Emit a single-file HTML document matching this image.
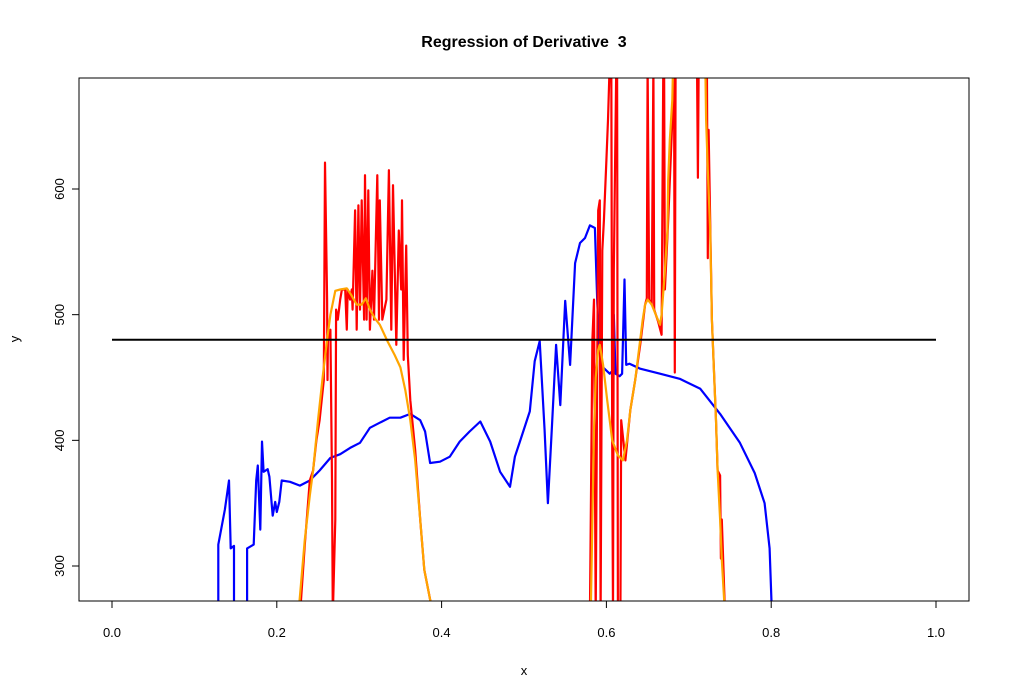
<!DOCTYPE html>
<html><head><meta charset="utf-8"><style>
html,body{margin:0;padding:0;background:#fff;}
svg{display:block;font-family:"Liberation Sans",Arial,sans-serif;}
</style></head><body>
<svg id="chart" width="1010" height="699" xmlns="http://www.w3.org/2000/svg">
<defs><clipPath id="clip"><rect x="79" y="78" width="890" height="523"/></clipPath></defs>
<text x="524" y="47" text-anchor="middle" font-size="16" font-weight="bold">Regression of Derivative&#160; 3</text>
<text x="524" y="675" text-anchor="middle" font-size="13">x</text>
<text x="19" y="339" text-anchor="middle" font-size="13" transform="rotate(-90 19 339)">y</text>
<g id="series" clip-path="url(#clip)"></g>
<g id="axes"></g>
<rect x="79" y="78" width="890" height="523" fill="none" stroke="#000" stroke-width="1"/>
</svg>
<script>
const xTicks = [0, 0.2, 0.4, 0.6, 0.8, 1.0];
const xTickLabels = ["0.0", "0.2", "0.4", "0.6", "0.8", "1.0"];
const yTicks = [300, 400, 500, 600];
const yTickLabels = ["300", "400", "500", "600"];
const hlineValue = 480;
const blueX = [0.129,0.129,0.137,0.142,0.144,0.148,0.148,null,0.164,0.164,0.172,0.175,0.177,0.180,0.182,0.184,0.189,0.191,0.195,0.198,0.200,0.203,0.206,0.216,0.228,0.240,0.252,0.265,0.277,0.289,0.301,0.313,0.325,0.337,0.350,0.362,0.374,0.380,0.386,0.398,0.410,0.422,0.434,0.447,0.459,0.471,0.483,0.489,0.495,0.507,0.513,0.519,0.525,0.529,0.534,0.539,0.544,0.550,0.556,0.562,0.568,0.574,0.580,0.586,0.589,0.592,0.596,0.604,0.607,0.609,0.611,0.616,0.619,0.622,0.624,0.628,0.641,0.665,0.689,0.714,0.738,0.762,0.780,0.792,0.798,0.801];
const blueY = [260,317,345,368,314,316,260,null,260,314,317,368,380,329,399,375,377,371,340,351,343,351,368,367,364,368,376,386,389,394,398,410,414,418,418,421,416,407,382,383,387,399,407,415,399,375,363,387,399,423,463,479,408,350,412,476,428,511,460,541,557,561,571,569,509,470,458,453,455,500,453,451,453,528,460,461,457,453,449,441,421,398,374,350,314,260];
const redX = [0.228,0.234,0.240,0.244,0.248,0.252,0.257,0.2585,0.261,0.2615,0.262,0.265,0.267,0.268,0.271,0.272,0.274,0.277,0.279,0.283,0.285,0.286,0.289,0.291,0.292,0.295,0.297,0.299,0.301,0.303,0.306,0.307,0.309,0.311,0.313,0.316,0.318,0.322,0.324,0.325,0.328,0.333,0.336,0.339,0.341,0.345,0.348,0.351,0.352,0.354,0.357,0.359,0.362,0.368,0.374,0.379,0.390,null,
0.580,0.583,0.585,0.587,0.590,0.592,0.593,0.595,0.597,0.600,0.602,0.604,0.606,0.607,0.608,0.609,0.612,0.613,0.614,0.617,0.618,0.623,0.629,0.635,0.641,0.647,0.649,0.650,0.652,0.655,0.657,0.658,0.663,0.667,0.669,0.670,0.671,0.675,0.680,0.682,0.683,0.684,null,0.710,0.711,0.712,null,0.722,0.723,0.724,0.728,0.733,0.735,0.738,0.739,0.740,0.744];
const redY = [260,317,368,376,400,416,448,621,512,448,480,488,368,260,337,504,496,512,520,520,488,520,512,520,504,583,488,587,504,591,496,611,496,599,488,535,496,611,496,591,496,512,615,488,603,476,567,520,591,464,555,468,432,392,337,297,260,null,
260,480,512,260,583,591,260,551,575,623,655,700,700,400,260,535,700,700,260,260,416,384,424,448,476,508,513,700,512,508,700,504,494,484,700,700,520,575,655,700,454,700,null,700,609,700,null,700,545,647,496,416,376,372,306,337,260];
const orangeX = [0.226,0.234,0.240,0.244,0.250,0.256,0.261,0.265,0.271,0.277,0.285,0.290,0.297,0.303,0.308,0.313,0.319,0.325,0.335,0.343,0.350,0.356,0.362,0.368,0.374,0.379,0.390,null,
0.581,0.583,0.585,0.587,0.590,0.592,0.596,0.601,0.607,0.614,0.620,0.625,0.629,0.635,0.641,0.644,0.647,0.650,0.655,0.660,0.665,0.667,0.671,0.674,0.675,0.677,0.680,0.681,0.700,0.720,0.721,0.723,0.726,0.728,0.731,0.733,0.735,0.738,0.740,0.744];
const orangeY = [260,321,356,376,416,452,480,500,519,520,521,516,508,508,513,504,497,492,478,468,458,440,416,384,337,297,260,null,
260,337,408,450,472,476,460,432,400,388,384,400,424,448,480,496,508,512,508,500,492,500,535,567,607,639,671,700,720,700,655,615,567,496,448,416,376,337,305,260];

const X0=112, X1=936, Y0=566, YS=377/300;
function sx(v){return X0+(X1-X0)*v;}
function sy(v){return Y0-(v-300)*YS;}
const NS="http://www.w3.org/2000/svg";
const gS=document.getElementById('series'), gA=document.getElementById('axes');
function mkPath(xs,ys,color,name){
  let d="",pen=false;
  for(let i=0;i<xs.length;i++){
    if(xs[i]===null){pen=false;continue;}
    d+=(pen?"L":"M")+sx(xs[i]).toFixed(1)+" "+sy(ys[i]).toFixed(1)+" ";pen=true;
  }
  const p=document.createElementNS(NS,'path');
  p.setAttribute('d',d);p.setAttribute('fill','none');p.setAttribute('stroke',color);
  p.setAttribute('stroke-width','2.2');p.setAttribute('stroke-linejoin','round');
  
  
  gS.appendChild(p);
}
mkPath(blueX,blueY,'#0000ff','blue-series-line');
mkPath(redX,redY,'#ff0000','red-series-line');
mkPath(orangeX,orangeY,'#ffa500','orange-series-line');
const hl=document.createElementNS(NS,'line');
hl.setAttribute('x1',sx(0));hl.setAttribute('x2',sx(1));
hl.setAttribute('y1',sy(hlineValue));hl.setAttribute('y2',sy(hlineValue));
hl.setAttribute('stroke','#000');hl.setAttribute('stroke-width','2');


gS.appendChild(hl);
xTicks.forEach((t,i)=>{
  const l=document.createElementNS(NS,'line');
  l.setAttribute('x1',sx(t));l.setAttribute('x2',sx(t));l.setAttribute('y1',601);l.setAttribute('y2',608);
  l.setAttribute('stroke','#000');
  
  
  gA.appendChild(l);
  const tx=document.createElementNS(NS,'text');
  tx.setAttribute('x',sx(t));tx.setAttribute('y',637);tx.setAttribute('text-anchor','middle');tx.setAttribute('font-size','13');
  tx.textContent=xTickLabels[i];
  
  
  gA.appendChild(tx);
});
const axl=document.createElementNS(NS,'line');
axl.setAttribute('x1',sx(0));axl.setAttribute('x2',sx(1));axl.setAttribute('y1',601);axl.setAttribute('y2',601);axl.setAttribute('stroke','#000');


gA.appendChild(axl);
yTicks.forEach((t,i)=>{
  const l=document.createElementNS(NS,'line');
  l.setAttribute('x1',72);l.setAttribute('x2',79);l.setAttribute('y1',sy(t));l.setAttribute('y2',sy(t));
  l.setAttribute('stroke','#000');
  
  
  gA.appendChild(l);
  const tx=document.createElementNS(NS,'text');
  const y=sy(t);
  tx.setAttribute('x',64);tx.setAttribute('y',y);tx.setAttribute('text-anchor','middle');tx.setAttribute('font-size','13');
  tx.setAttribute('transform','rotate(-90 64 '+y+')');
  tx.textContent=yTickLabels[i];
  
  
  gA.appendChild(tx);
});
const ayl=document.createElementNS(NS,'line');
ayl.setAttribute('x1',79);ayl.setAttribute('x2',79);ayl.setAttribute('y1',sy(300));ayl.setAttribute('y2',sy(600));ayl.setAttribute('stroke','#000');


gA.appendChild(ayl);
</script>
</body></html>
